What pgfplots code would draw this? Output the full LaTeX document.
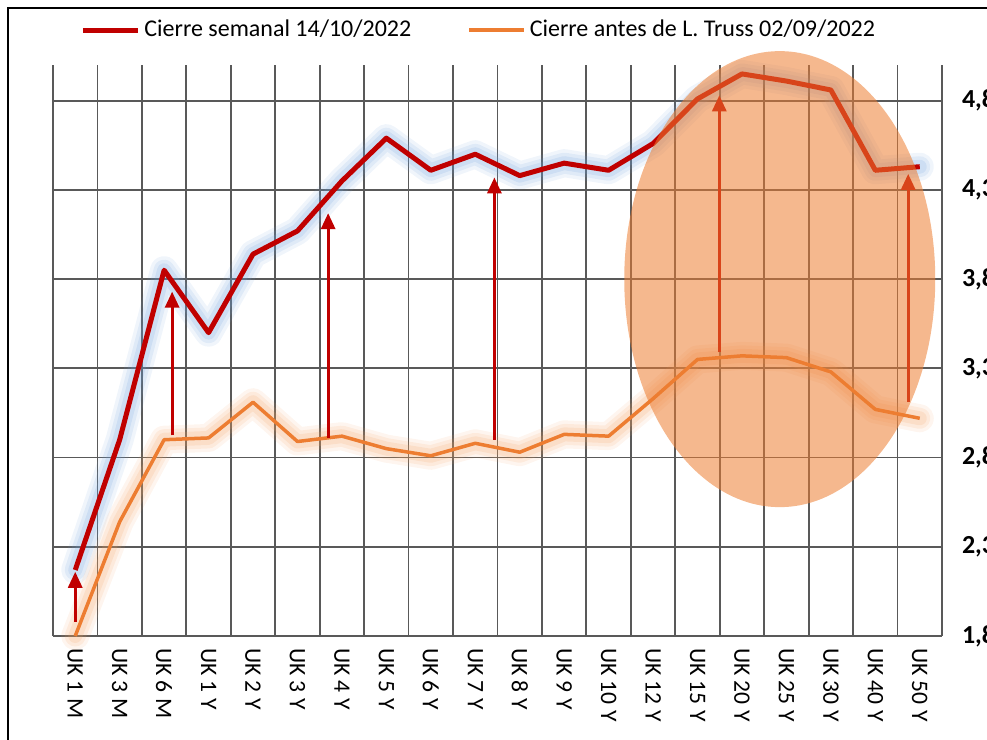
\documentclass[border=0pt]{standalone}
\usepackage{pgfplots}
\pgfplotsset{compat=1.18}
\usepackage{pgfplotstable}
\usetikzlibrary{arrows.meta}
\usepackage{fontspec}
\setmainfont{Carlito}
\definecolor{cred}{HTML}{C00000}
\definecolor{corange}{HTML}{ED7D31}
\definecolor{cgrid}{HTML}{595959}
\definecolor{cglowb}{HTML}{6FA0DC}
\definecolor{cglowo}{HTML}{F4A060}
\definecolor{cell}{HTML}{ED7D31}

\pgfplotstableread{
x red orange
0 2.17 1.80
1 2.90 2.44
2 3.85 2.90
3 3.50 2.91
4 3.94 3.11
5 4.07 2.89
6 4.35 2.92
7 4.59 2.85
8 4.41 2.81
9 4.50 2.88
10 4.38 2.83
11 4.45 2.93
12 4.41 2.92
13 4.56 3.13
14 4.81 3.35
15 4.95 3.37
16 4.91 3.36
17 4.86 3.28
18 4.41 3.07
19 4.43 3.02
}\data

\begin{document}
\begin{tikzpicture}
\begin{axis}[
  at={(0pt,0pt)}, anchor=south west,
  scale only axis, width=444.5pt, height=285.5pt,
  xmin=-0.5, xmax=19.5, ymin=1.8, ymax=5.0,
  axis line style={draw=none},
  clip=false,
  xtick={0,...,19},
  xticklabels={UK 1 M,UK 3 M,UK 6 M,UK 1 Y,UK 2 Y,UK 3 Y,UK 4 Y,UK 5 Y,UK 6 Y,UK 7 Y,UK 8 Y,UK 9 Y,UK 10 Y,UK 12 Y,UK 15 Y,UK 20 Y,UK 25 Y,UK 30 Y,UK 40 Y,UK 50 Y},
  minor xtick={-0.5,0.5,...,19.5},
  xminorgrids,
  minor grid style={cgrid, line width=0.9pt},
  ytick={1.8,2.3,2.8,3.3,3.8,4.3,4.8},
  yticklabels={{1,8},{2,3},{2,8},{3,3},{3,8},{4,3},{4,8}},
  ymajorgrids,
  major grid style={cgrid, line width=0.9pt},
  yticklabel pos=right,
  major tick length=0pt, minor tick length=0pt,
  xticklabel style={rotate=-90, anchor=west, font=\fontsize{11.8}{14}\selectfont},
  xticklabel shift=2.5pt,
  yticklabel style={anchor=west, font=\bfseries\fontsize{13}{15}\selectfont},
  yticklabel shift=6.5pt,
  legend style={at={(0.48,1.0613)}, anchor=center, draw=none, fill=none,
    font=\fontsize{12}{14}\selectfont,
    /tikz/every even column/.append style={column sep=26pt}},
  legend columns=2,
  legend cell align=left,
  legend image code/.code={\draw[#1] (0pt,0pt) -- (27.5pt,0pt);},
  glowb/.style={cglowb, line join=round, line cap=round, forget plot},
  glowo/.style={cglowo, line join=round, line cap=round, forget plot},
]
\addplot[glowb, opacity=0.10, line width=14pt] table[x=x,y=red]{\data};
\addplot[glowb, opacity=0.13, line width=10.5pt] table[x=x,y=red]{\data};
\addplot[glowb, opacity=0.16, line width=7pt] table[x=x,y=red]{\data};
\addplot[glowo, opacity=0.10, line width=14pt] table[x=x,y=orange]{\data};
\addplot[glowo, opacity=0.13, line width=10.5pt] table[x=x,y=orange]{\data};
\addplot[glowo, opacity=0.16, line width=7pt] table[x=x,y=orange]{\data};
\addplot[cred, line width=2.5pt, line join=round] table[x=x,y=red]{\data};
\addlegendentry{Cierre semanal 14/10/2022}
\addplot[corange, line width=1.75pt, line join=round] table[x=x,y=orange]{\data};
\addlegendentry{Cierre antes de L. Truss 02/09/2022}
\addplot[cred, line width=1.5pt, -{Triangle[width=7pt,length=8pt]}, forget plot] coordinates {(0,1.88) (0,2.16)};
\addplot[cred, line width=1.5pt, -{Triangle[width=7pt,length=8pt]}, forget plot] coordinates {(2.18,2.925) (2.18,3.73)};
\addplot[cred, line width=1.5pt, -{Triangle[width=7pt,length=8pt]}, forget plot] coordinates {(5.69,2.91) (5.69,4.17)};
\addplot[cred, line width=1.5pt, -{Triangle[width=7pt,length=8pt]}, forget plot] coordinates {(9.43,2.90) (9.43,4.37)};
\addplot[cred, line width=1.5pt, -{Triangle[width=7pt,length=8pt]}, forget plot] coordinates {(14.49,3.39) (14.49,4.83)};
\addplot[cred, line width=1.5pt, -{Triangle[width=7pt,length=8pt]}, forget plot] coordinates {(18.74,3.11) (18.74,4.39)};
\fill[cell, opacity=0.55] (axis cs:15.85,3.80) ellipse [x radius=77.75pt, y radius=114pt];
\end{axis}
\draw[black, line width=1pt] (-22.5pt,-62pt) -- (-22.5pt,314pt) -- (473.5pt,314pt);
\pgfresetboundingbox
\useasboundingbox (-26.5pt,-52pt) rectangle (467pt,318pt);
\end{tikzpicture}
\end{document}
